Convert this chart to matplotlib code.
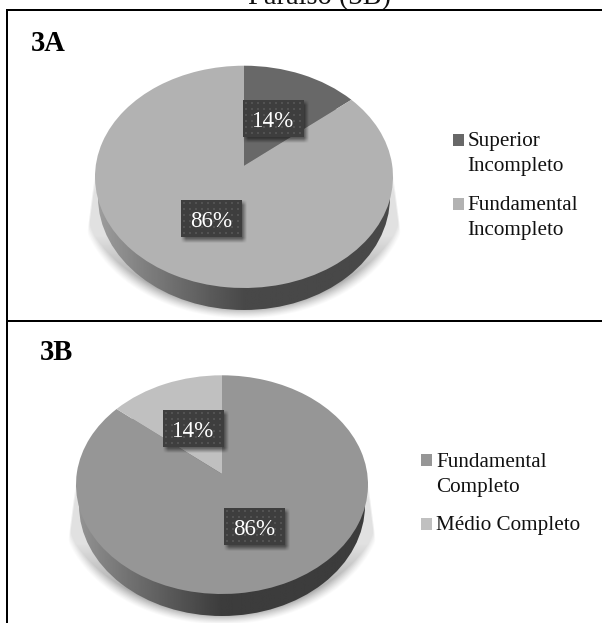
import numpy as np
import matplotlib
matplotlib.use("Agg")
import matplotlib.pyplot as plt
from matplotlib.patches import Ellipse, Rectangle
from matplotlib.transforms import Transform

DPI = 100
plt.rcParams["font.family"] = ["Liberation Serif", "DejaVu Serif"]

# Education level shares for each group
labels_a = ["Superior\nIncompleto", "Fundamental\nIncompleto"]
values_a = [14, 86]
colors_a = ["#686868", "#b2b2b2"]

labels_b = ["Fundamental\nCompleto", "Médio Completo"]
values_b = [86, 14]
colors_b = ["#969696", "#c0c0c0"]


def pt(px):
    return px * 72 / DPI


class TiltedDisc(Transform):
    """Perspective mapping of the unit disc onto a tilted pie face (pixel space, y down)."""
    input_dims = 2
    output_dims = 2
    has_inverse = False

    def __init__(self, cx, apex_y, top_y, bottom_y, half_width):
        super().__init__()
        up, down = apex_y - top_y, bottom_y - apex_y
        self.k = (down - up) / (down + up)
        self.b = up * (1 + self.k)
        self.a = half_width * np.sqrt(1 - self.k ** 2)
        self.cx, self.apex_y = cx, apex_y

    def transform_non_affine(self, values):
        values = np.asarray(values, dtype=float)
        w = 1 + self.k * values[:, 1]
        return np.column_stack([self.cx + self.a * values[:, 0] / w,
                                self.apex_y - self.b * values[:, 1] / w])


fig = plt.figure(figsize=(602 / DPI, 623 / DPI), dpi=DPI, facecolor="white")
ax = fig.add_axes([0, 0, 1, 1])


def draw_shadow(cx, half_width, wall_cy, wall_ry, flank_top):
    xs = np.arange(cx - half_width - 30, cx + half_width + 30)
    ys = np.arange(flank_top - 5, wall_cy + wall_ry + 14)
    X, Y = np.meshgrid(xs + 0.5, ys + 0.5)
    d = np.hypot((X - cx) / (half_width + 16), (Y - wall_cy) / (wall_ry + 9))
    ground = np.clip((1 - d) / 0.10, 0, 1) ** 1.3 * 0.42
    # the ground shadow deepens towards the bottom of the disc
    cap = 0.13 + 0.29 * np.clip((Y - (wall_cy + 38)) / 60, 0, 1)
    # pale straight flanks rising beside the wall
    reach = half_width + (Y - flank_top) * 0.13
    reach = np.where(Y < wall_cy + 38, reach, 1000)
    edge = np.clip((reach - np.abs(X - cx)) / 2, 0, 1)
    rise = np.clip((Y - flank_top) / 22, 0, 1)
    rgba = np.zeros(X.shape + (4,))
    rgba[..., :3] = 0.1
    rgba[..., 3] = np.minimum(ground + 0.13 * (Y < wall_cy), cap) * edge * rise
    ax.imshow(rgba, extent=(xs[0], xs[-1] + 1, ys[-1] + 1, ys[0]),
              aspect="auto", interpolation="bilinear", zorder=1)


def draw_wall(cx, wall_cy, wall_rx, wall_ry, side_light, side_dark):
    shape = Ellipse((cx, wall_cy), 2 * wall_rx, 2 * wall_ry, fc="none", ec="none", zorder=2)
    ax.add_patch(shape)
    xs = np.linspace(cx - wall_rx, cx + wall_rx, 300)
    t = np.clip((xs - (cx - wall_rx)) / wall_rx, 0, 1)
    grey = side_light + (side_dark - side_light) * t ** 0.9
    im = ax.imshow(grey[None, :], extent=(cx - wall_rx, cx + wall_rx,
                                          wall_cy + wall_ry, wall_cy - wall_ry),
                   cmap="gray", vmin=0, vmax=1, aspect="auto", zorder=2)
    im.set_clip_path(shape)


def draw_face(values, colors, projection):
    wedges, _ = ax.pie(values, colors=colors, startangle=90, counterclock=False,
                       radius=1, center=(0, 0))
    for w in wedges:
        w.set_transform(projection + ax.transData)
        w.set_zorder(3)
        w.set_edgecolor("none")


def draw_value_box(text, left, top, width=61, height=37):
    # soft drop shadow, offset down and to the right
    m = 8
    xs = np.arange(left - m, left + width + 2 * m)
    ys = np.arange(top - m, top + height + 2 * m)
    X, Y = np.meshgrid(xs + 0.5, ys + 0.5)
    rx = np.clip((X - left) / 5, 0, 1) * np.clip((left + width + 5 - X) / 5, 0, 1)
    ry = np.clip((Y - top) / 5, 0, 1) * np.clip((top + height + 6 - Y) / 5, 0, 1)
    rgba = np.zeros(X.shape + (4,))
    rgba[..., 3] = 0.5 * rx * ry
    ax.imshow(rgba, extent=(xs[0], xs[-1] + 1, ys[-1] + 1, ys[0]), aspect="auto",
              interpolation="bilinear", zorder=4)
    ax.add_patch(Rectangle((left, top), width, height, fc="#3e3e3e", ec="none", zorder=5))
    gx, gy = np.meshgrid(np.arange(left + 3, left + width, 6),
                         np.arange(top + 3, top + height, 6))
    ax.scatter(gx.ravel(), gy.ravel(), s=2.0, marker="s", c="#525252", linewidths=0, zorder=6)
    ax.text(left + width / 2, top + height - 10, text, color="white", ha="center",
            va="baseline", fontsize=pt(23), zorder=7)


def draw_legend(labels, colors, square_x, text_x, square_tops, first_baselines):
    for label, color, sq, base in zip(labels, colors, square_tops, first_baselines):
        ax.add_patch(Rectangle((square_x, sq), 11, 11.5, fc=color, ec="none", zorder=3))
        for i, line in enumerate(label.split("\n")):
            ax.text(text_x, base + i * 25, line, fontsize=pt(21.2), color="#111111",
                    ha="left", va="baseline", zorder=3)


# Panel 3A
draw_shadow(244, 149, 197, 113, 170)
draw_wall(244, 197, 146, 113, 0.62, 0.285)
draw_face(values_a, colors_a, TiltedDisc(244, 165.7, 65.7, 288, 149))
draw_value_box(f"{values_a[0]}%", 243, 100)
draw_value_box(f"{values_a[1]}%", 181, 200)
draw_legend(labels_a, colors_a, 453, 467.5, [134, 198], [146, 210])
ax.text(31, 51, "3A", fontsize=pt(28.5), fontweight="bold", color="black", va="baseline")

# Panel 3B
draw_shadow(222, 146, 505, 111, 478)
draw_wall(222, 505, 143, 111, 0.58, 0.235)
draw_face(values_b, colors_b, TiltedDisc(222, 474, 375.3, 594, 146))
draw_value_box(f"{values_b[1]}%", 163, 410)
draw_value_box(f"{values_b[0]}%", 224, 508)
draw_legend(labels_b, colors_b, 421, 436, [454, 518], [467, 530])
ax.text(40, 360.5, "3B", fontsize=pt(28.5), fontweight="bold", color="black", va="baseline")

# Caption running off the top edge, and the table rules
ax.text(320, 4, "Paraíso (3B)", fontsize=pt(28.5), color="#111111", ha="center",
        va="baseline", zorder=8)
ax.plot([7, 7], [9, 623], color="black", lw=pt(2), solid_capstyle="butt", zorder=9)
ax.plot([6, 602], [10, 10], color="black", lw=pt(2), solid_capstyle="butt", zorder=9)
ax.plot([6, 602], [321, 321], color="black", lw=pt(2), solid_capstyle="butt", zorder=9)

ax.set_aspect("auto")
ax.set_xlim(0, 602)
ax.set_ylim(623, 0)
ax.axis("off")
fig.savefig("out.png", dpi=DPI, facecolor="white")
